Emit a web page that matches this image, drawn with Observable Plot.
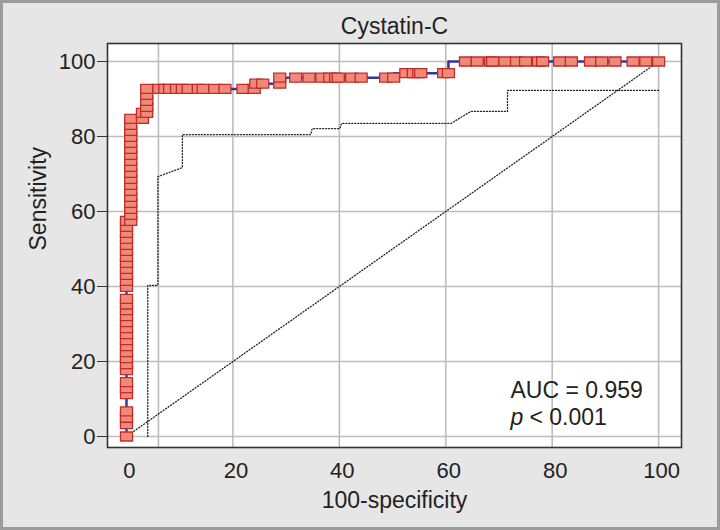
<!DOCTYPE html>
<html>
<head>
<meta charset="utf-8">
<script src="https://cdn.jsdelivr.net/npm/d3@7"></script>
<script src="https://cdn.jsdelivr.net/npm/@observablehq/plot@0.6"></script>
<style>
  html, body { margin: 0; padding: 0; background: #e6e6e6; }
  svg { display: block; }
</style>
</head>
<body>
<div id="chart"></div>
<script>
// ---- data ----
const title = "Cystatin-C";
const xLabel = "100-specificity";
const yLabel = "Sensitivity";
const aucText = "AUC = 0.959";
const pLetter = "p";
const pText = "< 0.001";

const xTicks = [0, 20, 40, 60, 80, 100];
const yTicks = [0, 20, 40, 60, 80, 100];
const gridX = [6, 20, 40, 60, 80, 100];

// ROC curve points (100-specificity, sensitivity)
const rocX = [
  0, 0, 0, 0, 0, 0, 0,
  0, 0, 0, 0, 0, 0, 0, 0, 0, 0, 0, 0, 0,
  0, 0, 0, 0, 0, 0, 0, 0, 0, 0, 0, 0,
  0.8, 0.8, 0.8, 0.8, 0.8, 0.8, 0.8, 0.8, 0.8, 0.8, 0.8, 0.8, 0.8, 0.8, 0.8, 0.8, 0.8, 0.8,
  3.0, 3.0,
  3.8, 3.8, 3.8, 3.8, 3.8,
  6.1, 7.2, 8.1, 9.4, 10.5, 11.6, 13.5, 14.4, 16.6, 18.5, 21.9, 24.0,
  24.3, 25.6,
  28.8, 28.8, 31.8, 34.3, 36.7, 38.2, 39.3, 39.8, 42.3, 44.1, 48.7, 50.2,
  52.5, 53.9, 54.9, 55.3, 59.6, 60.5,
  63.7, 65.9, 68.4, 68.8, 71.1, 73.3, 75.0, 77.4, 78.2, 81.4, 83.6, 87.2, 89.3, 91.8, 95.2, 97.6, 100
];
const rocY = [
  0, 3.3, 5.0, 6.7, 11.3, 12.9, 14.5,
  17.7, 19.3, 20.9, 22.5, 24.1, 25.7, 27.3, 28.9, 30.5, 32.1, 33.7, 35.2, 36.7,
  39.9, 41.5, 43.1, 44.7, 46.3, 47.9, 49.5, 51.1, 52.7, 54.3, 55.9, 57.5,
  57.5, 59.1, 60.7, 62.3, 63.9, 65.5, 67.1, 68.7, 70.3, 71.9, 73.5, 75.1, 76.7, 78.3, 79.9, 81.5, 83.1, 84.7,
  84.7, 86.3,
  86.3, 87.9, 89.5, 91.1, 92.7,
  92.7, 92.7, 92.7, 92.7, 92.7, 92.7, 92.7, 92.7, 92.7, 92.7, 92.7, 92.7,
  94.1, 94.1,
  94.1, 95.7, 95.7, 95.7, 95.7, 95.7, 95.7, 95.7, 95.7, 95.7, 95.7, 95.7,
  96.9, 96.9, 96.9, 96.9, 96.9, 96.9,
  100, 100, 100, 100, 100, 100, 100, 100, 100, 100, 100, 100, 100, 100, 100, 100, 100
];

// lower confidence bound (dotted step line)
const ciX = [4.0, 4.0, 5.9, 5.9, 10.5, 10.5, 34.6, 34.9, 40.1, 40.4, 61.0, 64.7, 71.6, 71.6, 100];
const ciY = [0, 40.3, 40.3, 69.3, 71.7, 80.5, 80.5, 82.1, 82.1, 83.5, 83.5, 86.7, 86.7, 92.3, 92.3];

// reference diagonal
const diagX = [0, 100];
const diagY = [0, 100];

// ---- build tables ----
const roc = rocX.map((x, i) => ({x, y: rocY[i]}));
const ci = ciX.map((x, i) => ({x, y: ciY[i]}));
const diag = diagX.map((x, i) => ({x, y: diagY[i]}));

const rectSymbol = {
  draw(context) {
    const w = 12, h = 9;
    context.moveTo(-w / 2, -h / 2);
    context.lineTo(w / 2, -h / 2);
    context.lineTo(w / 2, h / 2);
    context.lineTo(-w / 2, h / 2);
    context.closePath();
  }
};

const font = "'Liberation Sans', Arial, Helvetica, sans-serif";

const chart = Plot.plot({
  width: 720,
  height: 530,
  marginLeft: 107,
  marginRight: 39,
  marginTop: 43,
  marginBottom: 83,
  style: `background:#e6e6e6;font-family:${font};color:#222;box-shadow:inset 0 0 0 3px #9c9c9c;`,
  x: {domain: [-3.57, 104.3]},
  y: {domain: [-2.93, 104.8]},
  marks: [
    Plot.frame({fill: "white"}),
    Plot.ruleX(gridX, {stroke: "#bdbdbd", strokeWidth: 1.6}),
    Plot.ruleY(yTicks, {stroke: "#bdbdbd", strokeWidth: 1.6}),
    Plot.line(diag, {x: "x", y: "y", stroke: "#222", strokeWidth: 1.3, strokeDasharray: "1,2"}),
    Plot.line(ci, {x: "x", y: "y", stroke: "#222", strokeWidth: 1.3, strokeDasharray: "1,2"}),
    Plot.line(roc, {x: "x", y: "y", stroke: "#3434a4", strokeWidth: 2.5, curve: "step-before"}),
    Plot.dot(roc, {x: "x", y: "y", symbol: rectSymbol, r: 5, fill: "#f08a78", stroke: "#c22b2b", strokeWidth: 1.3}),
    Plot.frame({stroke: "#333", strokeWidth: 1.6}),
    Plot.axisY({ticks: yTicks, tickSize: 10, tickPadding: 2, fontSize: 22, label: null, stroke: "#333"}),
    Plot.axisX({ticks: xTicks, tickSize: 0, tickPadding: 15, fontSize: 22, label: null, dx: 3}),
    Plot.text([title], {frameAnchor: "top", dy: -10, lineAnchor: "bottom", fontSize: 23, fill: "#222"}),
    Plot.text([xLabel], {frameAnchor: "bottom", dy: 60, lineAnchor: "bottom", fontSize: 23, fill: "#222"}),
    Plot.text([yLabel], {frameAnchor: "left", dx: -62, dy: 5, rotate: -90, lineAnchor: "bottom", fontSize: 23, fill: "#222"}),
    Plot.text([aucText], {frameAnchor: "bottom-left", textAnchor: "start", lineAnchor: "bottom", dx: 403, dy: -50, fontSize: 23, fill: "#222"}),
    Plot.text([pLetter], {frameAnchor: "bottom-left", textAnchor: "start", lineAnchor: "bottom", dx: 403, dy: -23, fontSize: 23, fontStyle: "italic", fill: "#222"}),
    Plot.text([pText], {frameAnchor: "bottom-left", textAnchor: "start", lineAnchor: "bottom", dx: 422, dy: -23, fontSize: 23, fill: "#222"})
  ]
});

document.getElementById("chart").appendChild(chart);
</script>
</body>
</html>
